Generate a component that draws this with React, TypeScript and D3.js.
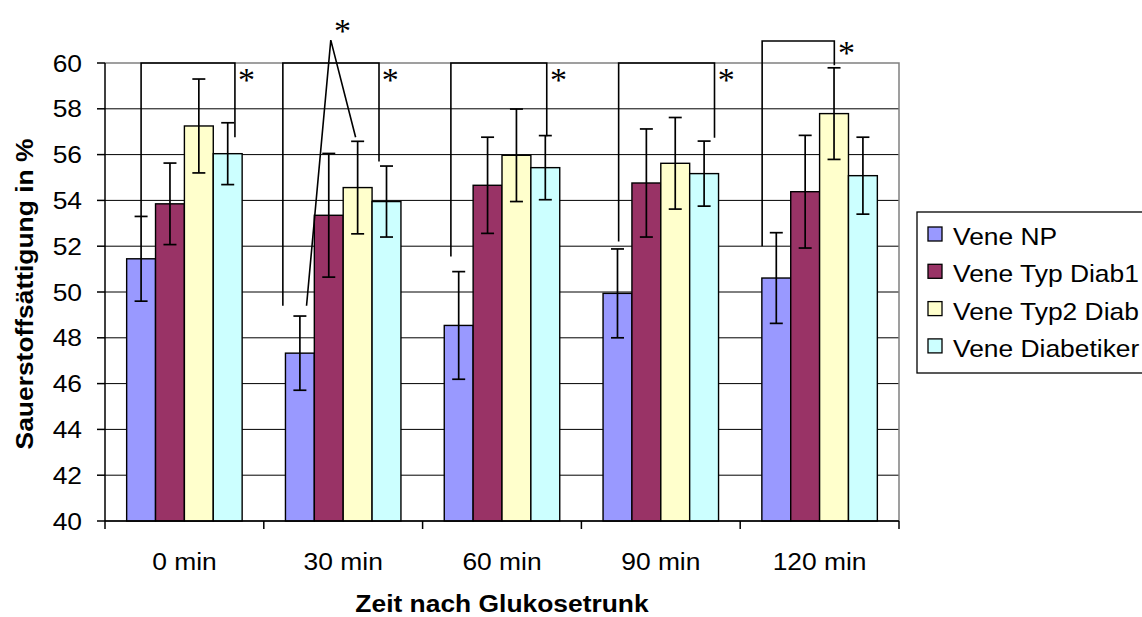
import React from "react";
import * as d3 from "d3";

// Zeitpunkte nach dem Glukosetrunk
const categories = ["0 min", "30 min", "60 min", "90 min", "120 min"];

// Serien und Farben
const seriesNames = ["Vene NP", "Vene Typ Diab1", "Vene Typ2 Diab", "Vene Diabetiker"];
const seriesColors = ["#9999FF", "#993366", "#FFFFCC", "#CCFFFF"];

// Mittelwerte der Sauerstoffsättigung (%)
const veneNP = [51.45, 47.33, 48.54, 49.94, 50.61];
const veneTypDiab1 = [53.85, 53.35, 54.66, 54.76, 54.38];
const veneTyp2Diab = [57.25, 54.56, 55.97, 55.62, 57.79];
const veneDiabetiker = [56.04, 53.95, 55.43, 55.17, 55.08];

// Fehlerbalken (±)
const veneNPErr = [1.85, 1.62, 2.35, 1.94, 1.98];
const veneTypDiab1Err = [1.78, 2.7, 2.1, 2.36, 2.46];
const veneTyp2DiabErr = [2.05, 2.02, 2.02, 2.0, 2.0];
const veneDiabetikerErr = [1.35, 1.55, 1.4, 1.42, 1.68];

const yTicks = [40, 42, 44, 46, 48, 50, 52, 54, 56, 58, 60];

// Signifikanzklammern: Balkenplatz (slot) links/rechts, Wert am Fuß und oben
const brackets = [
  { cat: 0, leftSlot: 0, rightSlot: 3.25, leftEnd: 53.3, top: 60, rightEnd: 56.76 },
  { cat: 1, leftSlot: -0.59, rightSlot: 2.74, leftEnd: 49.4, top: 60, rightEnd: 55.7 },
  { cat: 2, leftSlot: -0.27, rightSlot: 3.05, leftEnd: 51.55, top: 60, rightEnd: 56.8 },
  { cat: 3, leftSlot: 0.04, rightSlot: 3.36, leftEnd: 52.2, top: 60, rightEnd: 56.74 },
  { cat: 4, leftSlot: -0.49, rightSlot: 2.01, leftEnd: 52.0, top: 60.96, rightEnd: 59.9 },
];
// Dachförmige Verbindung bei 30 min
const peak = { cat: 1, left: [0.23, 49.4], apex: [1.07, 61.0], right: [1.93, 56.76] };
// Sternchen
const stars = [
  { cat: 0, slot: 3.65, value: 59.48 },
  { cat: 1, slot: 3.13, value: 59.48 },
  { cat: 1, slot: 1.48, value: 61.6 },
  { cat: 2, slot: 3.46, value: 59.48 },
  { cat: 3, slot: 3.77, value: 59.48 },
  { cat: 4, slot: 2.43, value: 60.62 },
];

const W = 1142;
const H = 617;
const plot = { left: 105, right: 899, top: 63, bottom: 521 };
const SANS = "'Liberation Sans', Arial, Helvetica, sans-serif";
const SERIF = "'Liberation Serif', 'Times New Roman', serif";
const SX = 1.1;

function Label(props: {
  x: number;
  y: number;
  anchor?: string;
  size?: number;
  weight?: string;
  rotate?: number;
  family?: string;
  children: React.ReactNode;
}) {
  const { x, y, anchor = "start", size = 24, weight = "normal", rotate, family = SANS } = props;
  const tr = `translate(${x},${y})${rotate ? ` rotate(${rotate})` : ""} scale(${SX},1)`;
  return (
    <text
      transform={tr}
      textAnchor={anchor}
      fontSize={size}
      fontWeight={weight}
      fontFamily={family}
      fill="#000"
    >
      {props.children}
    </text>
  );
}

export default function App() {
  const values = [veneNP, veneTypDiab1, veneTyp2Diab, veneDiabetiker];
  const errors = [veneNPErr, veneTypDiab1Err, veneTyp2DiabErr, veneDiabetikerErr];

  const x0 = d3.scaleBand<string>().domain(categories).range([plot.left, plot.right]).padding(0);
  const x1 = d3
    .scaleBand<string>()
    .domain(seriesNames)
    .range([0, x0.bandwidth()])
    .paddingInner(0)
    .paddingOuter(0.75);
  const y = d3.scaleLinear().domain([40, 60]).range([plot.bottom, plot.top]);

  const bw = x1.bandwidth();
  const slotX = (cat: number, s: number) =>
    (x0(categories[cat]) as number) + (x1(seriesNames[0]) as number) + x1.step() * s + bw / 2;

  const capHalf = 6.5;
  const line = d3.line<[number, number]>();
  const starSize = 34;

  return (
    <svg
      width={W}
      height={H}
      style={{ position: "absolute", left: 0, top: 0, background: "#fff" }}
    >
      {/* Gitternetzlinien */}
      {yTicks.map((t) =>
        t === 60 ? null : (
          <line key={`g${t}`} x1={plot.left} x2={plot.right} y1={y(t)} y2={y(t)} stroke="#000" strokeWidth={1} />
        )
      )}
      {/* Rahmen oben und rechts */}
      <path
        d={`M${plot.left},${y(60)}H${plot.right}V${plot.bottom}`}
        fill="none"
        stroke="#808080"
        strokeWidth={1.5}
      />

      {/* Balken */}
      {categories.map((c, ci) => (
        <g key={c} transform={`translate(${x0(c)},0)`}>
          {seriesNames.map((s, si) => (
            <rect
              key={s}
              x={x1(s)}
              y={y(values[si][ci])}
              width={bw}
              height={y(40) - y(values[si][ci])}
              fill={seriesColors[si]}
              stroke="#000"
              strokeWidth={1.4}
            />
          ))}
        </g>
      ))}

      {/* Fehlerbalken */}
      {categories.map((c, ci) =>
        seriesNames.map((s, si) => {
          const cx = (x0(c) as number) + (x1(s) as number) + bw / 2;
          const v = values[si][ci];
          const e = errors[si][ci];
          return (
            <g key={`e${ci}-${si}`} stroke="#000" strokeWidth={1.7}>
              <line x1={cx} x2={cx} y1={y(v + e)} y2={y(v - e)} />
              <line x1={cx - capHalf} x2={cx + capHalf} y1={y(v + e)} y2={y(v + e)} />
              <line x1={cx - capHalf} x2={cx + capHalf} y1={y(v - e)} y2={y(v - e)} />
            </g>
          );
        })
      )}

      {/* Achsen */}
      <line x1={plot.left} x2={plot.left} y1={plot.top} y2={plot.bottom} stroke="#000" strokeWidth={1.5} />
      <line x1={plot.left} x2={plot.right} y1={plot.bottom} y2={plot.bottom} stroke="#000" strokeWidth={1.5} />
      {yTicks.map((t) => (
        <g key={`yt${t}`}>
          <line x1={plot.left - 8} x2={plot.left} y1={y(t)} y2={y(t)} stroke="#000" strokeWidth={1.5} />
          <Label x={82} y={y(t) + 8.5} anchor="end">
            {t}
          </Label>
        </g>
      ))}
      {[...categories.map((c) => x0(c) as number), plot.right].map((xv, i) => (
        <line key={`xt${i}`} x1={xv} x2={xv} y1={plot.bottom} y2={plot.bottom + 8} stroke="#000" strokeWidth={1.5} />
      ))}
      {categories.map((c) => (
        <Label key={`xl${c}`} x={(x0(c) as number) + x0.bandwidth() / 2} y={570} anchor="middle">
          {c}
        </Label>
      ))}

      {/* Achsentitel */}
      <Label x={(plot.left + plot.right) / 2} y={612} anchor="middle" weight="bold">
        Zeit nach Glukosetrunk
      </Label>
      <Label x={33} y={(plot.top + plot.bottom) / 2 + 2} anchor="middle" weight="bold" rotate={-90}>
        Sauerstoffsättigung in %
      </Label>

      {/* Signifikanzklammern */}
      {brackets.map((b, i) => {
        const xl = slotX(b.cat, b.leftSlot);
        const xr = slotX(b.cat, b.rightSlot);
        const pts: [number, number][] = [
          [xl, y(b.leftEnd)],
          [xl, y(b.top)],
          [xr, y(b.top)],
          [xr, y(b.rightEnd)],
        ];
        return <path key={`b${i}`} d={line(pts) as string} fill="none" stroke="#000" strokeWidth={1.6} />;
      })}
      <path
        d={
          line([
            [slotX(peak.cat, peak.left[0]), y(peak.left[1])],
            [slotX(peak.cat, peak.apex[0]), y(peak.apex[1])],
            [slotX(peak.cat, peak.right[0]), y(peak.right[1])],
          ]) as string
        }
        fill="none"
        stroke="#000"
        strokeWidth={1.6}
      />
      {stars.map((s, i) => (
        <text
          key={`s${i}`}
          x={slotX(s.cat, s.slot)}
          y={y(s.value) + starSize * 0.46}
          textAnchor="middle"
          fontSize={starSize}
          fontFamily={SERIF}
        >
          *
        </text>
      ))}

      {/* Legende */}
      <rect x={917} y={212} width={260} height={161} fill="#fff" stroke="#000" strokeWidth={1.3} />
      {seriesNames.map((s, i) => {
        const base = 245 + i * 37.3;
        return (
          <g key={`lg${s}`}>
            <rect x={928} y={base - 18} width={14} height={14} fill={seriesColors[i]} stroke="#000" strokeWidth={1.3} />
            <Label x={953} y={base}>
              {s}
            </Label>
          </g>
        );
      })}
    </svg>
  );
}
